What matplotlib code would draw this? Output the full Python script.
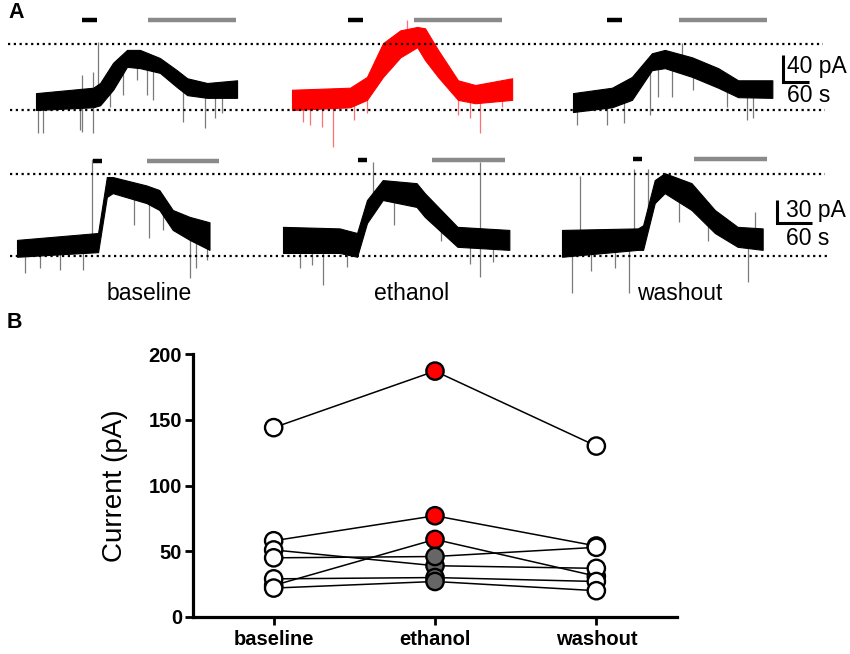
import numpy as np
import matplotlib.pyplot as plt

plt.rcParams['font.family'] = ['Liberation Sans', 'DejaVu Sans']

W, H = 850, 654
conditions = ['baseline', 'ethanol', 'washout']

# ---- Panel A: example sweeps (time in s from sweep start, current in pA) ----
# top cell
top_base_t = [0, 132, 148, 178, 210, 240, 286, 325, 349, 395, 464]
top_base_hi = [25, 33, 40, 70, 89, 89, 77, 59, 47, 40, 44]
top_base_lo = [0, 4, 7, 30, 64, 62, 55, 34, 22, 18, 18]
top_eth_t = [0, 134, 173, 210, 250, 289, 307, 337, 383, 423, 508]
top_eth_hi = [30, 33, 49, 99, 118, 123, 121, 89, 44, 37, 47]
top_eth_lo = [0, 4, 15, 49, 78, 93, 74, 49, 15, 10, 15]
top_wash_t = [0, 90, 136, 182, 212, 275, 335, 381, 460]
top_wash_hi = [25, 33, 49, 84, 89, 78, 62, 44, 44]
top_wash_lo = [-3, 4, 15, 59, 62, 49, 33, 19, 18]

top_base_spk_t = [143, 106, 132, 5, 16, 102, 106, 132, 171, 201, 233, 256, 271, 340, 390, 413, 429]
top_base_spk_a = [101, 52, 56, -34, -34, -30, -32, -34, 4, 22, 44, 22, 15, -18, -27, -12, -4]
top_eth_spk_t = [266, 26, 42, 69, 95, 142, 173, 383, 411, 434, 485]
top_eth_spk_a = [133, -18, -22, -25, -55, -15, -5, -7, -12, -34, 4]
top_wash_spk_t = [252, 9, 78, 118, 178, 196, 229, 277, 356, 402, 416]
top_wash_spk_a = [99, -22, -22, -19, -7, 19, 19, 30, 4, -15, -12]

# bottom cell
bot_base_t = [0, 139, 154, 164, 222, 244, 267, 296, 330]
bot_base_hi = [21, 30, 103, 103, 92, 86, 60, 51, 44]
bot_base_lo = [-1, 5, 77, 82, 69, 60, 34, 21, 8]
bot_eth_t = [0, 97, 127, 144, 171, 229, 243, 299, 388]
bot_eth_hi = [38, 36, 30, 73, 99, 95, 82, 38, 34]
bot_eth_lo = [4, 4, -1, 43, 73, 64, 51, 12, 8]
bot_wash_t = [0, 130, 139, 159, 176, 222, 262, 301, 344]
bot_wash_hi = [34, 36, 40, 99, 108, 95, 60, 38, 36]
bot_wash_lo = [-1, 8, 8, 69, 82, 60, 30, 12, 8]

bot_base_spk_t = [128, 14, 40, 74, 113, 200, 227, 250, 296, 306, 325]
bot_base_spk_a = [127, -22, -16, -18, -18, 40, 23, 34, -29, -16, -5]
bot_eth_spk_t = [154, 337, 337, 68, 29, 50, 110, 190, 270, 320, 360]
bot_eth_spk_a = [122, 122, -27, -38, -16, -12, -14, 40, 20, -10, -8]
bot_wash_spk_t = [31, 123, 147, 17, 50, 90, 115, 200, 250, 318, 330]
bot_wash_spk_a = [105, 114, 114, -48, -20, -15, -48, 45, 20, -34, 57]

# application windows (s from sweep start): short black pulse, long grey bar
top_black = [(106, 141), (129, 164), (79, 113)]
top_grey = [(259, 462), (282, 485), (245, 448)]
bot_black = [(130, 145), (128, 144), (121, 137)]
bot_grey = [(222, 347), (255, 380), (227, 352)]

# ---- Panel B: peak current (pA) per cell ----
cell_values = [
    [144, 187, 130],
    [58, 77, 54],
    [24, 59, 31],
    [51, 39, 37],
    [45, 46, 53],
    [29, 30, 27],
    [22, 27, 20],
]
ethanol_fill = ['red', 'red', 'red', '#666666', '#666666', '#666666', '#666666']

fig = plt.figure(figsize=(W / 100, H / 100), dpi=100)


def row_axes(top_px, bot_px, zero_px, s_px, pa_px):
    ax = fig.add_axes([0, 1 - bot_px / H, 1, (bot_px - top_px) / H])
    ax.set_xlim(0, W * s_px)
    ax.set_ylim((zero_px - bot_px) * pa_px, (zero_px - top_px) * pa_px)
    ax.axis('off')
    ax.patch.set_alpha(0)
    return ax


def draw_sweep(ax, x0, t, hi, lo, spk_t, spk_a, color, spk_color):
    t = np.asarray(t) + x0
    mid = (np.asarray(hi) + np.asarray(lo)) / 2
    st = np.asarray(spk_t) + x0
    base = np.interp(st, t, mid)
    ax.vlines(st, base, spk_a, color=spk_color, lw=0.9, zorder=1)
    ax.fill_between(t, lo, hi, color=color, lw=0.8, zorder=2)


def draw_row(ax, s_px, x0s, sweeps, colors, blacks, greys, bar_y, dots, dot_lvl,
             bar_corner, bar_pa, bar_lbl, lbl_x, lbl_y):
    for i, (sw, col) in enumerate(zip(sweeps, colors)):
        x0 = x0s[i] * s_px
        spk_col = '#ff7070' if col == 'red' else '#7a7a7a'
        draw_sweep(ax, x0, *sw, col, spk_col)
        ax.hlines(bar_y[i], x0 + blacks[i][0], x0 + blacks[i][1], color='k', lw=3.2)
        ax.hlines(bar_y[i], x0 + greys[i][0], x0 + greys[i][1], color='#8a8a8a', lw=3.2)
    for (xa, xb), lvl in zip(dots, dot_lvl):
        ax.plot([xa * s_px, xb * s_px], [lvl, lvl], color='k', lw=1.6, ls=(0, (1, 1.6)))
    cx, cy = bar_corner
    cx = cx * s_px
    ax.plot([cx, cx, cx + 60], [cy + bar_pa, cy, cy], color='k', lw=2.2,
            solid_joinstyle='miter', solid_capstyle='butt')
    ax.text(lbl_x * s_px, lbl_y[0], bar_lbl, fontsize=16.5, va='center', ha='left')
    ax.text(lbl_x * s_px, lbl_y[1], '60 s', fontsize=16.5, va='center', ha='left')


# top row: 40 pA = 27 px, 60 s = 26 px
s_top, p_top = 60 / 26, 40 / 27
ax_top = row_axes(0, 150, 110, s_top, p_top)
draw_row(ax_top, s_top, [36, 292, 573],
         [(top_base_t, top_base_hi, top_base_lo, top_base_spk_t, top_base_spk_a),
          (top_eth_t, top_eth_hi, top_eth_lo, top_eth_spk_t, top_eth_spk_a),
          (top_wash_t, top_wash_hi, top_wash_lo, top_wash_spk_t, top_wash_spk_a)],
         ['k', 'red', 'k'],
         top_black, top_grey, [133, 133, 133],
         [(8, 823), (10, 825)], [98, 0], (783, 41), 40, '40 pA', 787, (64, 22))

# bottom row: 30 pA = 23 px, 60 s = 35 px
s_bot, p_bot = 60 / 35, 30 / 23
ax_bot = row_axes(140, 305, 256, s_bot, p_bot)
draw_row(ax_bot, s_bot, [17, 283, 562],
         [(bot_base_t, bot_base_hi, bot_base_lo, bot_base_spk_t, bot_base_spk_a),
          (bot_eth_t, bot_eth_hi, bot_eth_lo, bot_eth_spk_t, bot_eth_spk_a),
          (bot_wash_t, bot_wash_hi, bot_wash_lo, bot_wash_spk_t, bot_wash_spk_a)],
         ['k', 'k', 'k'],
         bot_black, bot_grey, [124, 125, 127],
         [(10, 825), (10, 828)], [107, 0], (777, 43), 30, '30 pA', 786, (60, 23))

for name, xc in zip(conditions, [149, 412, 680]):
    fig.text(xc / W, 1 - 294 / H, name, fontsize=16.5, ha='center', va='center')

fig.text(8 / W, 1 - 12 / H, 'A', fontsize=15.5, weight='bold', va='center', ha='left')
fig.text(7 / W, 1 - 323 / H, 'B', fontsize=15.5, weight='bold', va='center', ha='left')

# ---- Panel B ----
ax = fig.add_axes([193 / W, 1 - 617 / H, 484 / W, 263 / H])
xpos = np.arange(len(conditions))
for vals, fill in zip(cell_values, ethanol_fill):
    ax.plot(xpos, vals, color='k', lw=1.1, zorder=2)
    ax.scatter(xpos, vals, s=155, c=['white', fill, 'white'], edgecolors='k',
               linewidths=1.7, zorder=3, clip_on=False)

ax.set_xlim(-0.5, 2.5)
ax.set_ylim(0, 200)
ax.set_yticks([0, 50, 100, 150, 200])
ax.set_xticks(xpos)
ax.set_xticklabels(conditions)
for s in ['top', 'right']:
    ax.spines[s].set_visible(False)
for s in ['left', 'bottom']:
    ax.spines[s].set_linewidth(2.3)
ax.tick_params(width=2, length=5.5, labelsize=14.5, pad=2.5)
ax.tick_params(axis='x', pad=4)
for lbl in ax.get_xticklabels() + ax.get_yticklabels():
    lbl.set_fontweight('bold')
ax.set_ylabel('Current (pA)', fontsize=20)
ax.yaxis.set_label_coords(-0.135, 0.5)

fig.savefig('out.png', dpi=100)
